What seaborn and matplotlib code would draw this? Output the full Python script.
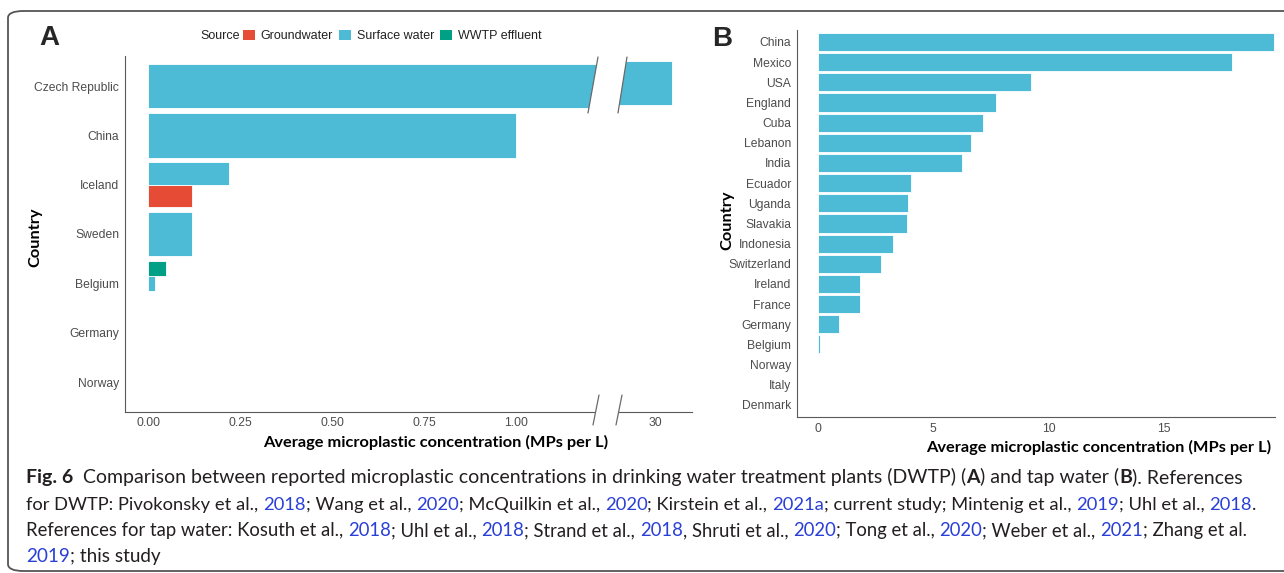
import re
import numpy as np
import pandas as pd
import matplotlib
matplotlib.use("Agg")
import matplotlib.pyplot as plt
from matplotlib.patches import FancyBboxPatch, Polygon, Patch
from matplotlib.lines import Line2D
import seaborn as sns

# ---------------- data ----------------
# Panel A: drinking water treatment plants (DWTP)
dwtp_countries = ["Czech Republic", "China", "Iceland", "Sweden", "Belgium", "Germany", "Norway"]
dwtp_country = ["Czech Republic", "China", "Iceland", "Iceland", "Sweden",
                "Belgium", "Belgium", "Belgium", "Germany", "Norway"]
dwtp_source = ["Surface water", "Surface water", "Groundwater", "Surface water", "Surface water",
               "Groundwater", "Surface water", "WWTP effluent", "Surface water", "Surface water"]
dwtp_value = [30.25, 1.00, 0.12, 0.22, 0.12, 0.0, 0.02, 0.05, 0.0, 0.0]

sources = ["Groundwater", "Surface water", "WWTP effluent"]
source_colors = ["#E64B35", "#4DBBD5", "#00A087"]

# Panel B: tap water
tap_countries = ["China", "Mexico", "USA", "England", "Cuba", "Lebanon", "India", "Ecuador",
                 "Uganda", "Slavakia", "Indonesia", "Switzerland", "Ireland", "France",
                 "Germany", "Belgium", "Norway", "Italy", "Denmark"]
tap_values = [19.75, 17.96, 9.24, 7.73, 7.15, 6.62, 6.25, 4.02, 3.92, 3.84, 3.25, 2.75,
              1.83, 1.83, 0.92, 0.08, 0.0, 0.0, 0.0]

left_ticks = [0.0, 0.25, 0.5, 0.75, 1.0]
right_ticks = [30]
tap_ticks = [0, 5, 10, 15]

# ---------------- style ----------------
sns.set_style("white")
plt.rcParams["font.family"] = ["Liberation Sans", "DejaVu Sans"]
TICK_GREY = "#4d4d4d"
AXIS_GREY = "#5a5a5a"
TEXT_DARK = "#231f20"
LINK_BLUE = "#2a3fd6"
TICK_SIZE = 8.7
palette = dict(zip(sources, source_colors))

W, H, DPI = 1284, 573, 100
fig = plt.figure(figsize=(W / DPI, H / DPI), dpi=DPI)
fig.patch.set_facecolor("white")


def fx(x):
    return x / W


def fy(y):
    return 1 - y / H


def box(x0, y0, x1, y1):
    return [fx(x0), fy(y1), fx(x1) - fx(x0), fy(y0) - fy(y1)]


def style_axis(ax):
    ax.set_xlabel("")
    ax.set_ylabel("")
    ax.set_facecolor("none")
    for s in ("top", "right"):
        ax.spines[s].set_visible(False)
    ax.spines["bottom"].set_color(AXIS_GREY)
    ax.spines["left"].set_color(AXIS_GREY)
    ax.tick_params(axis="both", colors=AXIS_GREY, labelcolor=TICK_GREY,
                   labelsize=TICK_SIZE, length=2.6, width=0.8, pad=1.6, direction="out")


# outer frame of the figure panel
frame = FancyBboxPatch((fx(8), fy(571)), fx(1300) - fx(8), fy(11) - fy(571),
                       boxstyle="round,pad=0,rounding_size=0.012",
                       transform=fig.transFigure, fill=False,
                       edgecolor="#555555", linewidth=1.3)
fig.patches.append(frame)

# ---------------- panel A (broken x axis) ----------------
dwtp = pd.DataFrame({"country": dwtp_country, "source": dwtp_source, "value": dwtp_value})
dwtp["idx"] = dwtp["country"].map({c: i for i, c in enumerate(dwtp_countries)})
dwtp["order"] = dwtp["source"].map({s: i for i, s in enumerate(sources)})
dwtp = dwtp.sort_values(["idx", "order"]).reset_index(drop=True)
dwtp["n"] = dwtp.groupby("country")["value"].transform("size")
dwtp["slot"] = dwtp.groupby("country").cumcount()
# dodge within each country: first source level sits at the bottom
dwtp["ypos"] = dwtp["idx"] + 0.45 - (dwtp["slot"] + 0.5) * 0.9 / dwtp["n"]

axL = fig.add_axes(box(125, 56.4, 599, 411.6))
axR = fig.add_axes(box(618, 56.4, 692, 411.6))

for ax in (axL, axR):
    for n, grp in dwtp.groupby("n"):
        sns.barplot(data=grp, x="value", y="ypos", hue="source", hue_order=sources,
                    palette=palette, saturation=1, orient="y", native_scale=True,
                    dodge=False, width=0.9 if n == 1 else 1.0, errorbar=None,
                    legend=False, edgecolor="white", linewidth=0.6, ax=ax)

axL.set_xlim(-0.0625, 1.2255)
axR.set_xlim(29.45, 30.55)
axL.set_ylim(len(dwtp_countries) - 0.4, -0.6)
axR.set_ylim(len(dwtp_countries) - 0.34, -0.54)

axL.set_yticks(range(len(dwtp_countries)))
axL.set_yticklabels(dwtp_countries)
axL.set_xticks(left_ticks)
axL.set_xticklabels([f"{t:.2f}" for t in left_ticks])
axR.set_xticks(right_ticks)
axR.set_xticklabels([str(t) for t in right_ticks])
axR.set_yticks([])

for ax in (axL, axR):
    style_axis(ax)
axR.spines["left"].set_visible(False)

# axis break: white gap with slanted cut marks
for pts in ([(588, 113), (598, 57), (627, 57), (618, 113)],
            [(593, 425), (599, 395), (622, 395), (616, 425)]):
    fig.patches.append(Polygon([(fx(x), fy(y)) for x, y in pts], closed=True,
                               transform=fig.transFigure, facecolor="white",
                               edgecolor="none", zorder=5))
for (x0, y0), (x1, y1) in (((588, 113), (598, 57)), ((618, 113), (627, 57)),
                           ((593, 425), (599, 395)), ((616, 425), (622, 395))):
    fig.lines.append(Line2D([fx(x0), fx(x1)], [fy(y0), fy(y1)], transform=fig.transFigure,
                            color="#6a6a6a", linewidth=0.9, zorder=6))

# legend across the top of panel A
fig.text(fx(200), fy(36), "Source", ha="left", va="center", fontsize=9, color="#222222")
handles = [Patch(facecolor=c, edgecolor="none") for c in source_colors]
fig.legend(handles, sources, loc="center left", bbox_to_anchor=(fx(243), fy(36)),
           ncol=3, frameon=False, fontsize=9, handlelength=0.95, handleheight=0.95,
           handletextpad=0.45, columnspacing=0.5, borderpad=0, borderaxespad=0,
           labelcolor="#222222")

# ---------------- panel B ----------------
tap = pd.DataFrame({"country": tap_countries, "value": tap_values})
axB = fig.add_axes(box(797, 29.9, 1275, 417))
sns.barplot(data=tap, x="value", y="country", order=tap_countries, color="#4DBBD5",
            saturation=1, width=0.9, errorbar=None, edgecolor="white", linewidth=0.6, ax=axB)
axB.set_xlim(-0.91, 19.81)
axB.set_ylim(len(tap_countries) - 0.4, -0.6)
axB.set_xticks(tap_ticks)
axB.set_xticklabels([str(t) for t in tap_ticks])
style_axis(axB)

# ---------------- titles and labels ----------------
title_kw = dict(fontfamily=["Lato", "DejaVu Sans"], fontweight="bold", color="black")
fig.text(fx(49), fy(38), "A", ha="center", va="center", fontsize=20,
         fontfamily=["Liberation Sans", "DejaVu Sans"], fontweight="bold")
fig.text(fx(722), fy(39), "B", ha="center", va="center", fontsize=20,
         fontfamily=["Liberation Sans", "DejaVu Sans"], fontweight="bold")
fig.text(fx(436), fy(442), "Average microplastic concentration (MPs per L)",
         ha="center", va="center", fontsize=11.8, **title_kw)
fig.text(fx(1099), fy(447), "Average microplastic concentration (MPs per L)",
         ha="center", va="center", fontsize=11.8, **title_kw)
fig.text(fx(35), fy(237), "Country", rotation=90, ha="center", va="center",
         fontsize=11.8, **title_kw)
fig.text(fx(727), fy(220), "Country", rotation=90, ha="center", va="center",
         fontsize=11.8, **title_kw)

# ---------------- caption ----------------
B_, N_, L_ = "bold", "normal", "link"
caption_lines = [
    [("Fig. 6", B_), ("  Comparison between reported microplastic concentrations in drinking water "
                      "treatment plants (DWTP) (", N_), ("A", B_), (") and tap water (", N_),
     ("B", B_), ("). References", N_)],
    [("for DWTP: Pivokonsky et al., ", N_), ("2018", L_), ("; Wang et al., ", N_), ("2020", L_),
     ("; McQuilkin et al., ", N_), ("2020", L_), ("; Kirstein et al., ", N_), ("2021a", L_),
     ("; current study; Mintenig et al., ", N_), ("2019", L_), ("; Uhl et al., ", N_),
     ("2018", L_), (".", N_)],
    [("References for tap water: Kosuth et al., ", N_), ("2018", L_), ("; Uhl et al., ", N_),
     ("2018", L_), ("; Strand et al., ", N_), ("2018", L_), (", Shruti et al., ", N_),
     ("2020", L_), ("; Tong et al., ", N_), ("2020", L_), ("; Weber et al., ", N_),
     ("2021", L_), ("; Zhang et al.", N_)],
    [("2019", L_), ("; this study", N_)],
]
baselines = [483, 510, 536, 562]
line_ends = [1237.0, 1253.0, 1246.0, None]
CAP_X = 26.0
renderer = fig.canvas.get_renderer()
cap_font = ["Lato", "DejaVu Sans"]


def make_text(x, yb, txt, kind, size):
    return fig.text(fx(x), fy(yb), txt, ha="left", va="baseline", fontsize=size,
                    fontfamily=cap_font,
                    fontweight="bold" if kind == B_ else "normal",
                    color=LINK_BLUE if kind == L_ else TEXT_DARK)


def natural_width(segs, size):
    total = 0.0
    for txt, kind in segs:
        t = make_text(0, 0, txt, kind, size)
        total += t.get_window_extent(renderer).width
        t.remove()
    return total


# each wrapped line is sized to run from the left margin to its line end
BASE = 12.0
sizes = []
for segs, end in zip(caption_lines, line_ends):
    if end is None:
        sizes.append(float(np.mean(sizes)))
    else:
        sizes.append(BASE * (end - CAP_X) / natural_width(segs, BASE))

for segs, yb, size in zip(caption_lines, baselines, sizes):
    x = CAP_X
    for txt, kind in segs:
        t = make_text(x, yb, txt, kind, size)
        x += t.get_window_extent(renderer).width

fig.savefig("out.png", dpi=DPI, facecolor="white")
